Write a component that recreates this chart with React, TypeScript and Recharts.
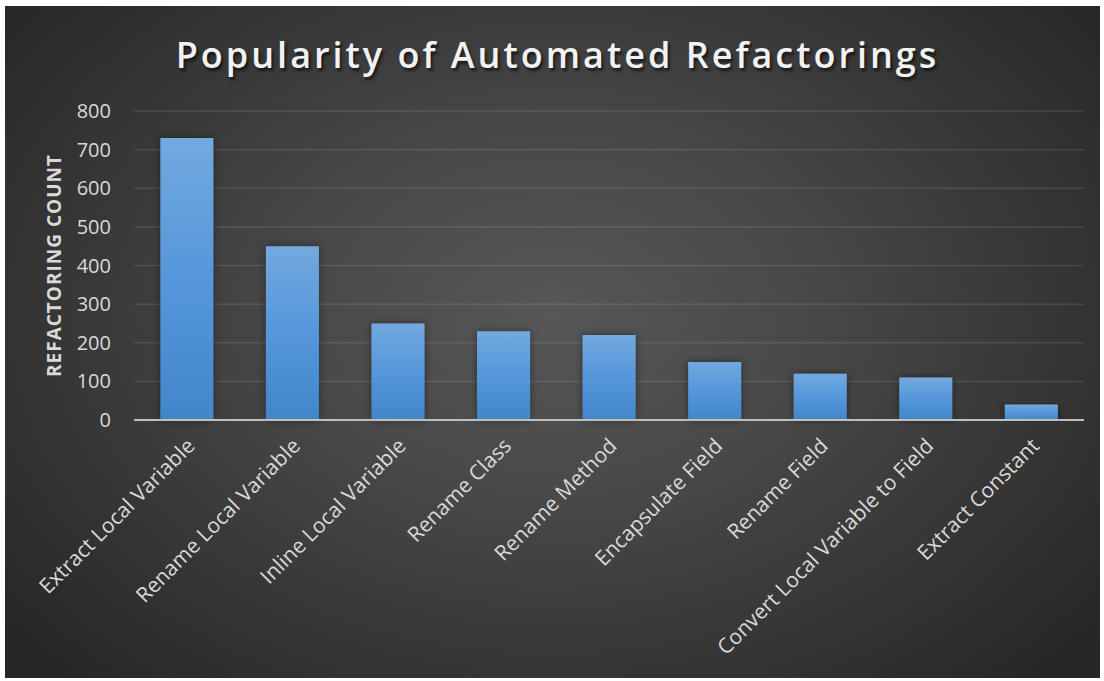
import React from "react";
import { BarChart, Bar, XAxis, YAxis, CartesianGrid } from "recharts";

const categories = [
  "Extract Local Variable",
  "Rename Local Variable",
  "Inline Local Variable",
  "Rename Class",
  "Rename Method",
  "Encapsulate Field",
  "Rename Field",
  "Convert Local Variable to Field",
  "Extract Constant",
];
const counts = [730, 450, 250, 230, 220, 150, 120, 110, 40];
const yTicks = [0, 100, 200, 300, 400, 500, 600, 700, 800];

const data = categories.map((name, i) => ({ name, count: counts[i] }));

const FONT = "'Open Sans', sans-serif";
const TEXT = "#d9d9d9";

const XTick = (props: any) => {
  const { x, y, payload } = props;
  return (
    <g transform={`translate(${x + 4},${y + 20})`}>
      <text
        x={0}
        y={0}
        dy="0.35em"
        textAnchor="end"
        transform="rotate(-45)"
        fill={TEXT}
        fontSize={21}
        fontFamily={FONT}
      >
        {payload.value}
      </text>
    </g>
  );
};

const YLabel = (props: any) => {
  const vb = props.viewBox || { x: 0, y: 0, width: 0, height: 0 };
  const cx = vb.x + 49;
  const cy = vb.y + vb.height / 2;
  return (
    <text
      x={cx}
      y={cy}
      transform={`rotate(-90,${cx},${cy})`}
      textAnchor="middle"
      dominantBaseline="central"
      fill={TEXT}
      fontSize={19}
      fontWeight="bold"
      fontFamily={FONT}
      letterSpacing={1}
    >
      REFACTORING COUNT
    </text>
  );
};

const App: React.FC = () => {
  return (
    <div
      style={{
        position: "absolute",
        left: 0,
        top: 0,
        width: 1104,
        height: 681,
        background: "#ffffff",
      }}
    >
      <div
        style={{
          position: "absolute",
          left: 5,
          top: 6,
          width: 1095,
          height: 672,
          background:
            "radial-gradient(ellipse 65% 75% at 50% 46%, #575757 0%, #494949 35%, #363636 70%, #262626 100%)",
        }}
      >
        <div
          style={{
            position: "absolute",
            left: 5,
            top: 28,
            width: 1095,
            textAlign: "center",
            color: "#f2f2f2",
            fontFamily: FONT,
            fontWeight: 600,
            fontSize: 36,
            letterSpacing: 3,
            lineHeight: "42px",
            textShadow: "2px 3px 3px rgba(0,0,0,0.6)",
          }}
        >
          Popularity of Automated Refactorings
        </div>
        <div style={{ position: "absolute", left: 0, top: 0 }}>
          <BarChart
            width={1095}
            height={672}
            data={data}
            margin={{ top: 105, right: 16, bottom: 0, left: 0 }}
            barCategoryGap="25%"
          >
            <defs>
              <linearGradient id="barFill" x1="0" y1="0" x2="0" y2="1">
                <stop offset="0%" stopColor="#72a9df" />
                <stop offset="50%" stopColor="#5597da" />
                <stop offset="100%" stopColor="#4186cb" />
              </linearGradient>
              <filter id="barShadow" x="-30%" y="-10%" width="160%" height="120%">
                <feDropShadow dx="0" dy="0" stdDeviation="4" floodColor="#000" floodOpacity="0.45" />
              </filter>
            </defs>
            <CartesianGrid
              vertical={false}
              stroke="rgba(255,255,255,0.1)"
              strokeWidth={1.5}
            />
            <XAxis
              dataKey="name"
              interval={0}
              height={258}
              tickLine={false}
              tickSize={0}
              axisLine={{ stroke: "#bfbfbf", strokeWidth: 2 }}
              tick={<XTick />}
            />
            <YAxis
              width={129}
              domain={[0, 800]}
              ticks={yTicks}
              axisLine={false}
              tickLine={false}
              tickSize={0}
              tickMargin={23}
              tick={{ fill: TEXT, fontSize: 20, fontFamily: FONT }}
              label={<YLabel />}
            />
            <Bar
              dataKey="count"
              fill="url(#barFill)"
              filter="url(#barShadow)"
              isAnimationActive={false}
            />
          </BarChart>
        </div>
      </div>
    </div>
  );
};

export default App;
